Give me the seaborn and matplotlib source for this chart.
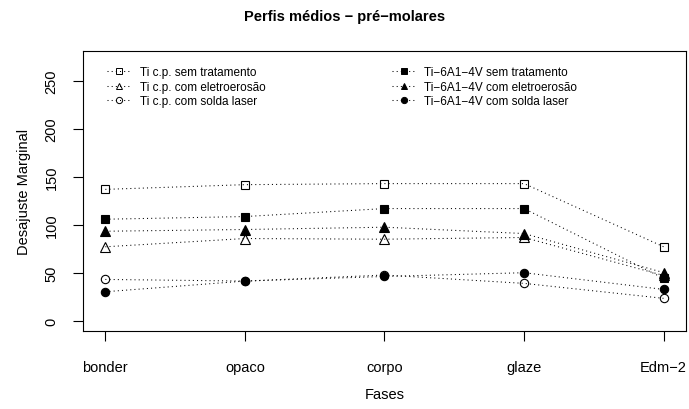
import matplotlib
matplotlib.use("Agg")
import matplotlib.pyplot as plt
import seaborn as sns
import pandas as pd
import numpy as np

categories = ["bonder", "opaco", "corpo", "glaze", "Edm\u22122"]
series_names = [
    "Ti c.p. sem tratamento",
    "Ti c.p. com eletroerosão",
    "Ti c.p. com solda laser",
    "Ti\u22126A1\u22124V sem tratamento",
    "Ti\u22126A1\u22124V com eletroerosão",
    "Ti\u22126A1\u22124V com solda laser",
]
ticp_sem = [136.7, 141.6, 142.7, 142.7, 76.9]
ticp_ele = [76.9, 85.5, 84.8, 86.6, 47.0]
ticp_las = [42.9, 41.2, 47.5, 38.8, 23.2]
ti6_sem = [105.6, 108.4, 116.7, 116.7, 44.0]
ti6_ele = [93.1, 94.9, 97.3, 90.7, 50.0]
ti6_las = [30.1, 41.2, 46.0, 49.9, 32.5]
yticks = [0, 50, 100, 150, 200, 250]

all_values = [ticp_sem, ticp_ele, ticp_las, ti6_sem, ti6_ele, ti6_las]
markers = ["s", "^", "o", "s", "^", "o"]
filled = [False, False, False, True, True, True]

sns.set_style("ticks")
plt.rcParams["font.family"] = ["Liberation Sans", "DejaVu Sans"]
plt.rcParams["text.color"] = "black"
plt.rcParams["axes.labelcolor"] = "black"
plt.rcParams["xtick.color"] = "black"
plt.rcParams["ytick.color"] = "black"

fig = plt.figure(figsize=(6.89, 4.10), dpi=100)
ax = fig.add_axes([83/689, 1 - 332/410, (686-83)/689, (332-52)/410])

rows = []
for name, vals in zip(series_names, all_values):
    for i, v in enumerate(vals):
        rows.append({"serie": name, "pos": i + 1, "valor": v})
df = pd.DataFrame(rows)

handles = []
for name, mk, fl in zip(series_names, markers, filled):
    sub = df[df["serie"] == name]
    ms = 6.5 if mk == "^" else 6
    sns.lineplot(data=sub, x="pos", y="valor", ax=ax, color="black",
                 linewidth=0.75, dashes=False, marker=mk, markersize=ms,
                 markerfacecolor="black" if fl else "none",
                 markeredgecolor="black", markeredgewidth=0.8, legend=False)
    ax.lines[-1].set_dashes((1, 3))
    h, = ax.plot([], [], color="black", linewidth=0.75,
                 marker=mk, markersize=4.5,
                 markerfacecolor="black" if fl else "none",
                 markeredgecolor="black", markeredgewidth=0.7)
    h.set_dashes((1, 3))
    handles.append(h)

ax.set_xlim(0.84, 5.16)
ax.set_ylim(-10.8, 280.8)
ax.set_xticks(range(1, len(categories) + 1))
ax.set_xticklabels(categories)
ax.set_yticks(yticks)
ax.set_yticklabels([str(t) for t in yticks], rotation=90, va="center")
ax.tick_params(axis="both", labelsize=10.5, length=7, width=0.8, color="black",
               labelcolor="black")
ax.tick_params(axis="x", pad=14)
ax.tick_params(axis="y", pad=10.5)
for s in ax.spines.values():
    s.set_visible(True)
    s.set_linewidth(0.8)
    s.set_color("black")

ax.set_xlabel("Fases", fontsize=10.5, labelpad=9, color="black")
ax.set_ylabel("Desajuste Marginal", fontsize=10.5, labelpad=10, color="black")
fig.suptitle("Perfis médios \u2212 pré\u2212molares", fontsize=10.5, fontweight="bold",
             y=1 - 17/410, va="center", color="black")

leg_kw = dict(frameon=False, fontsize=8.5, handlelength=2.0, handletextpad=0.75,
              labelspacing=0.2, borderaxespad=0.0, borderpad=0.0)
leg1 = ax.legend(handles[:3], series_names[:3], loc="upper left",
                 bbox_to_anchor=(0.040, 0.945), **leg_kw)
ax.add_artist(leg1)
leg2 = ax.legend(handles[3:], series_names[3:], loc="upper left",
                 bbox_to_anchor=(0.512, 0.945), **leg_kw)
for lg in (leg1, leg2):
    for t in lg.get_texts():
        t.set_color("black")

fig.savefig("out.png", dpi=100)
